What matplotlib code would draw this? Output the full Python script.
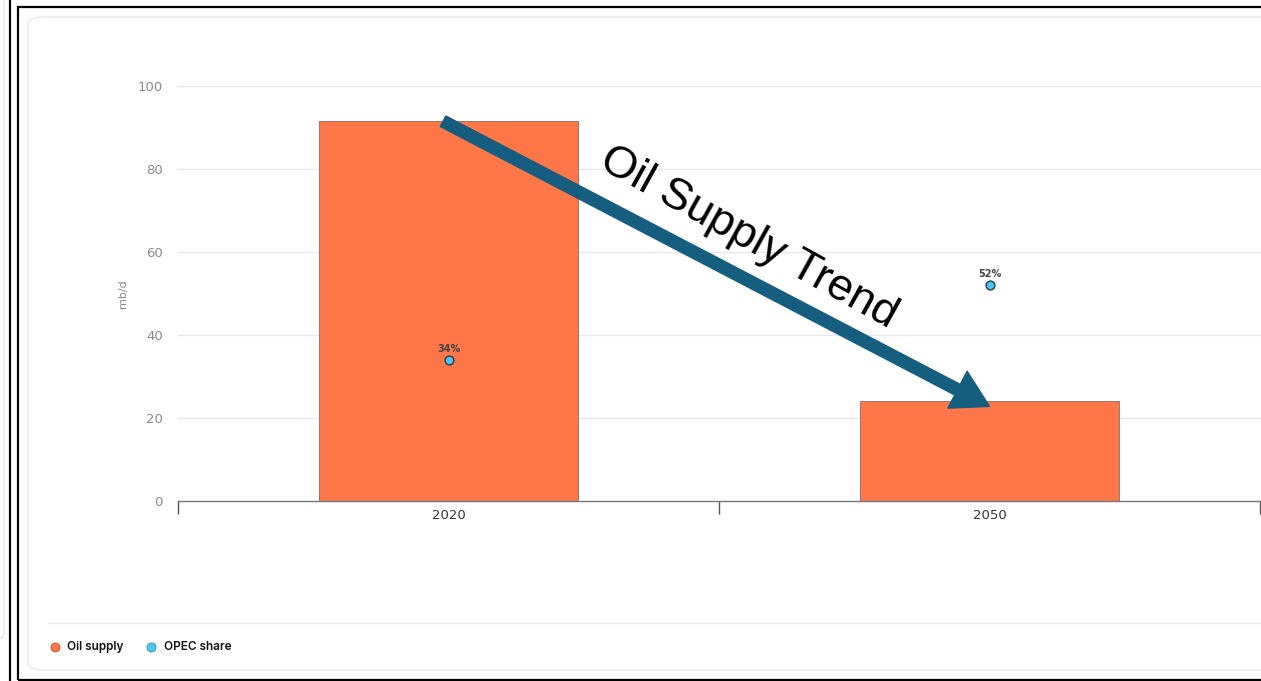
import matplotlib
matplotlib.use("Agg")
import matplotlib.pyplot as plt
from matplotlib.patches import FancyBboxPatch, Rectangle
from matplotlib.lines import Line2D

years = ["2020", "2050"]
oil_supply = [91.5, 24.0]
opec_share = [34, 52]
opec_labels = ["34%", "52%"]
y_ticks = [0, 20, 40, 60, 80, 100]

W, H = 1261, 681
fig = plt.figure(figsize=(W / 100, H / 100), dpi=100)
fig.patch.set_facecolor("white")

def fx(x):
    return x / W

def fy(y):
    return 1 - y / H

# frames
fig.add_artist(FancyBboxPatch((fx(-20), fy(640)), fx(24), fy(0) - fy(640) + 0.05,
                              boxstyle="round,pad=0,rounding_size=0.01",
                              transform=fig.transFigure, fc="white", ec="#e4e4e4", lw=1.0, zorder=0))
fig.add_artist(Line2D([fx(10), fx(10)], [0, 1], transform=fig.transFigure, color="black", lw=1.6, zorder=0))
fig.add_artist(Rectangle((fx(17.5), fy(680)), fx(1300), fy(7) - fy(680),
                         transform=fig.transFigure, fc="none", ec="black", lw=1.6, zorder=0))
fig.add_artist(FancyBboxPatch((fx(28), fy(670)), fx(1300), fy(17) - fy(670),
                              boxstyle="round,pad=0,rounding_size=0.012",
                              transform=fig.transFigure, fc="white", ec="#e8e8e8", lw=1.0, zorder=0))
fig.add_artist(Line2D([fx(48), fx(1261)], [fy(623), fy(623)], transform=fig.transFigure,
                      color="#ececec", lw=1.0, zorder=0))

ax = fig.add_axes([fx(178), fy(501), fx(1260) - fx(178), fy(86) - fy(501)])
ax.set_zorder(5)
ax.set_facecolor("none")
x = list(range(len(years)))
ax.bar(x, oil_supply, width=0.48, color="#FF7648", edgecolor="#8a6a60", linewidth=0.6, zorder=2)
ax.scatter(x, opec_share, s=40, color="#4CC6EE", edgecolor="#2a3a40", linewidth=1.0, zorder=4)
for xi, v, lab in zip(x, opec_share, opec_labels):
    ax.text(xi, v + 1.5, lab, ha="center", va="bottom", fontsize=7, fontweight="bold",
            color="#444444", family="DejaVu Sans", zorder=5)

ax.set_xlim(-0.5, 1.5)
ax.set_ylim(0, 100)
ax.set_yticks(y_ticks)
ax.set_yticklabels([str(t) for t in y_ticks], color="#8a8a8a", fontsize=9.5)
ax.tick_params(axis="y", length=0, pad=11)
for t in y_ticks[1:]:
    ax.axhline(t, color="#e8e8e8", lw=1.0, zorder=0, clip_on=False)
ax.set_xticks(x)
ax.set_xticklabels(years, color="#333333", fontsize=9.5)
ax.tick_params(axis="x", length=0, pad=6)
ax.set_xticks([-0.5, 0.5, 1.5], minor=True)
ax.tick_params(axis="x", which="minor", length=9, width=1.0, color="#555555")
for s in ["top", "right", "left"]:
    ax.spines[s].set_visible(False)
ax.spines["bottom"].set_color("#777777")
ax.spines["bottom"].set_linewidth(1.0)
ax.set_ylabel("mb/d", color="#8a8a8a", fontsize=8, labelpad=7)

ax.annotate("", xy=(1.0, 22.8), xytext=(-0.01, 91.5),
            arrowprops=dict(arrowstyle="simple,head_width=30,head_length=26,tail_width=8.6",
                            mutation_scale=1, color="#165E80", shrinkA=0, shrinkB=0),
            zorder=6)
ax.text(0.555, 63.5, "Oil Supply Trend", rotation=-29, ha="center", va="center",
        fontsize=32.5, family="Liberation Sans", color="black", zorder=7, rotation_mode="anchor")

# legend
fig.add_artist(Line2D([fx(55)], [fy(647)], marker="o", markersize=6.5, color="#FF7648",
                      markeredgecolor="#c05030", markeredgewidth=0.6, transform=fig.transFigure))
fig.text(fx(67), fy(647), "Oil supply", fontsize=8.5, color="#111111", va="center",
         fontweight="semibold", family=["Inter", "DejaVu Sans"])
fig.add_artist(Line2D([fx(151)], [fy(647)], marker="o", markersize=6.5, color="#4CC6EE",
                      markeredgecolor="#2a90b0", markeredgewidth=0.6, transform=fig.transFigure))
fig.text(fx(164), fy(647), "OPEC share", fontsize=8.5, color="#111111", va="center",
         fontweight="semibold", family=["Inter", "DejaVu Sans"])

fig.savefig("out.png", dpi=100)
